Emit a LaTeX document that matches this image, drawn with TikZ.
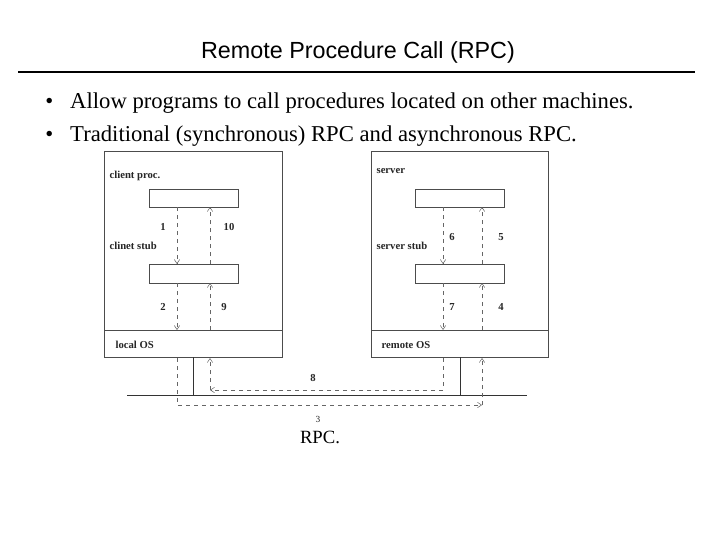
\documentclass[tikz,border=0pt]{standalone}
\usepackage{fontspec}
\setmainfont{Liberation Serif}
\setsansfont{Liberation Sans}
\usetikzlibrary{arrows.meta}
\tikzset{
    box/.style={draw=black!70, inner sep=0pt},
    lbl/.style={font=\bfseries\fontsize{8}{9}\selectfont, text=black!85, inner sep=1pt},
    msg/.style={draw=black!60, dashed, -{Straight Barb[length=3pt,width=4pt]}}
}
\begin{document}
\begin{tikzpicture}[x=0.75pt, y=-0.75pt]
    \useasboundingbox (0,0) rectangle (720,540);

    \node[font=\sffamily\fontsize{17.5}{20}\selectfont] (title) at (358,52) {Remote Procedure Call (RPC)};
    \draw[line width=1.5pt] (18,72) -- (695,72);
    \node[anchor=west, font=\fontsize{17}{20}\selectfont, inner sep=0pt] (b1) at (45,103) {\textbullet\hspace{0.75em}Allow programs to call procedures located on other machines.};
    \node[anchor=west, font=\fontsize{17}{20}\selectfont, inner sep=0pt] (b2) at (45,136) {\textbullet\hspace{0.75em}Traditional (synchronous) RPC and asynchronous RPC.};

    % machines
    \node[box, fill=white, minimum width=133.5pt, minimum height=154.5pt] (client) at (193,254.5) {};
    \node[box, fill=white, minimum width=132.75pt, minimum height=154.5pt] (server) at (459.5,254.5) {};
    \draw[black!70] (104,330) -- (282,330);
    \draw[black!70] (371,330) -- (548,330);

    \node[box, minimum width=66.75pt, minimum height=13.5pt] (cp) at (193.5,198) {};
    \node[box, minimum width=66.75pt, minimum height=14.25pt] (cs) at (193.5,273.5) {};
    \node[box, minimum width=66.75pt, minimum height=13.5pt] (sp) at (459.5,198) {};
    \node[box, minimum width=66.75pt, minimum height=14.25pt] (ss) at (459.5,273.5) {};

    % network
    \coordinate (n1) at (127,395);
    \coordinate (n2) at (527,395);
    \draw[black!80] (n1) -- (n2);
    \draw[black!80] (193,357) -- (193,395);
    \draw[black!80] (460,357) -- (460,395);

    % messages
    \draw[msg] (177,207) -- (177,264);
    \draw[msg] (210,264) -- (210,207);
    \draw[msg] (177,283) -- (177,330);
    \draw[msg] (210,330) -- (210,283);
    \draw[msg] (443,207) -- (443,264);
    \draw[msg] (482,264) -- (482,207);
    \draw[msg] (443,283) -- (443,330);
    \draw[msg] (482,330) -- (482,283);
    \draw[msg] (177,358) -- (177,405) -- (482,405);
    \draw[msg] (482,405) -- (482,358);
    \draw[msg] (443,358) -- (443,390) -- (210,390);
    \draw[msg] (210,390) -- (210,358);

    % labels
    \node[lbl, anchor=west] (l0) at (108,176) {client proc.};
    \node[lbl, anchor=west] (l1) at (108,246) {clinet stub};
    \node[lbl, anchor=west] (l2) at (114,345) {local OS};
    \node[lbl, anchor=west] (l3) at (375,171) {server};
    \node[lbl, anchor=west] (l4) at (375,246) {server stub};
    \node[lbl, anchor=west] (l5) at (380,345) {remote OS};
    \node[lbl] (m1) at (163,227) {1};
    \node[lbl] (m10) at (229,227) {10};
    \node[lbl] (m2) at (163,307) {2};
    \node[lbl] (m9) at (224,307) {9};
    \node[lbl] (m6) at (452,237) {6};
    \node[lbl] (m5) at (501,237) {5};
    \node[lbl] (m7) at (452,307) {7};
    \node[lbl] (m4) at (501,307) {4};
    \node[lbl] (m8) at (313,378) {8};
    \node[lbl, font=\fontsize{7}{8}\selectfont] (m3) at (318,419) {3};
    \node[font=\fontsize{14}{16}\selectfont] (cap) at (320,437) {RPC.};
\end{tikzpicture}
\end{document}
